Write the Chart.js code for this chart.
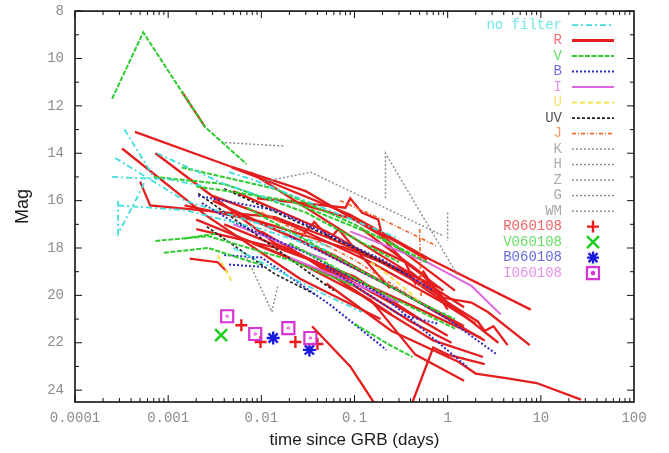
<!DOCTYPE html>
<html>
<head>
<meta charset="utf-8">
<script src="https://cdn.jsdelivr.net/npm/chart.js@4.4.1/dist/chart.umd.min.js"></script>
<style>
  html, body { margin: 0; padding: 0; background: #fff; }
  canvas { display: block; }
</style>
</head>
<body>
<canvas id="grbChart" width="669" height="453"></canvas>
<script>
// ticks
const xTicks = [1e-4, 1e-3, 1e-2, 0.1, 1, 10, 100];
const xTickLabels = ['0.0001', '0.001', '0.01', '0.1', '1', '10', '100'];
const yTicks = [8, 10, 12, 14, 16, 18, 20, 22, 24];

// light curves, [time (days), mag]
const noFilter = [
  [[3.4e-4, 13.0], [7e-4, 15.0]],
  [[2.5e-4, 15.0], [0.001, 15.1], [0.0025, 15.4]],
  [[2.7e-4, 14.2], [0.0015, 16.0], [0.01, 17.0], [0.06, 18.0]],
  [[2.9e-4, 16.0], [2.9e-4, 17.4], [4.6e-4, 15.9], [5.6e-4, 15.2]],
  [[2.9e-4, 16.2], [0.0015, 16.4], [0.01, 17.2], [0.05, 18.1]],
  [[7.6e-4, 14.0], [0.004, 15.3], [0.02, 16.2]],
  [[0.0045, 14.8], [0.008, 15.1], [0.3, 17.6]],
  [[0.005, 18.0], [0.05, 20.0], [0.12, 20.7]]
];
const vBand = [
  [[2.5e-4, 11.7], [5.4e-4, 8.9], [0.0014, 11.4], [0.0025, 12.9], [0.0069, 14.45]],
  [[0.0014, 14.6], [0.014, 15.5], [0.1, 17.0], [0.4, 18.3]],
  [[7e-4, 15.0], [0.004, 15.3], [0.03, 16.5], [0.3, 18.6]],
  [[7.3e-4, 17.7], [0.0027, 17.5], [0.02, 18.5], [0.1, 19.6]],
  [[9e-4, 18.2], [0.0027, 18.0], [0.0097, 18.7]],
  [[0.0015, 17.6], [0.0032, 17.4]],
  [[0.007, 16.3], [0.1, 18.8], [0.5, 20.3], [1.2, 21.0]],
  [[0.1, 21.2], [0.24, 22.1], [0.42, 22.6]],
  [[0.002, 15.4], [0.02, 16.0], [0.2, 17.6], [0.6, 18.6]],
  [[0.02, 17.8], [0.2, 19.9], [1.2, 21.4]]
];
const bBand = [
  [[0.0021, 15.8], [0.014, 16.4], [0.2, 18.5], [0.7, 19.8]],
  [[0.0023, 16.1], [0.005, 16.9], [0.03, 18.2], [0.2, 20.0], [1.6, 23.0]],
  [[0.004, 18.3], [0.01, 18.4], [0.055, 20.4], [0.22, 22.3]],
  [[0.0045, 18.7], [0.011, 18.8]],
  [[0.02, 17.5], [0.3, 19.8], [1.0, 21.0], [3.4, 22.5]],
  [[0.05, 18.8], [0.3, 20.8], [0.8, 21.2]]
];
const iBand = [
  [[0.09, 17.3], [0.6, 18.6], [1.8, 19.6], [3.7, 20.8]],
  [[0.02, 18.4], [0.1, 19.5], [0.3, 20.3]],
  [[0.005, 17.0], [0.05, 18.5]]
];
const uBand = [
  [[0.0034, 18.3], [0.0048, 19.4]],
  [[0.15, 18.6], [0.24, 19.2], [0.4, 19.9], [0.5, 20.3]]
];
const uvBand = [
  [[0.0021, 15.7], [0.014, 18.0], [0.06, 19.8]],
  [[0.0026, 17.1], [0.014, 19.1], [0.04, 20.0]],
  [[0.004, 15.5], [0.1, 18.0], [0.4, 19.2]]
];
const jBand = [
  [[0.07, 16.0], [0.2, 16.8], [0.75, 17.9]],
  [[0.5, 17.2], [0.52, 20.1]],
  [[0.01, 16.5], [0.1, 18.5], [0.6, 20.5]]
];
const grayBands = [
  [[0.0041, 13.55], [0.018, 13.7]],
  [[0.0105, 15.2], [0.034, 14.8], [0.91, 17.5]],
  [[0.215, 15.9], [0.215, 14.0], [1.3, 19.2]],
  [[1.0, 16.5], [1.0, 17.7]],
  [[0.007, 18.4], [0.013, 20.7], [0.015, 19.6]]
];
const rBand = [
  [[0.0014, 11.4], [0.0025, 12.9]],
  [[4.4e-4, 13.1], [0.005, 14.6], [0.03, 15.6], [0.2, 17.5], [1.2, 19.8]],
  [[3.2e-4, 13.8], [0.0025, 16.6], [0.026, 19.3], [0.19, 21.0]],
  [[7.3e-4, 14.0], [0.014, 17.8], [0.31, 20.2], [2.3, 21.8]],
  [[5e-4, 15.2], [6.4e-4, 16.2], [0.014, 16.7], [0.055, 17.6], [0.84, 19.7]],
  [[0.0017, 18.45], [0.0034, 18.6], [0.0043, 19.0]],
  [[0.0048, 14.6], [0.014, 15.3], [0.09, 16.6], [0.66, 18.5], [7.8, 20.6]],
  [[0.009, 15.9], [0.08, 16.3], [0.09, 15.9], [0.12, 16.5], [0.18, 16.8], [0.2, 17.6], [0.35, 18.6], [0.9, 19.8]],
  [[0.0076, 14.8], [0.19, 18.3], [0.6, 19.5], [1.5, 20.5]],
  [[0.026, 17.6], [0.037, 16.9], [0.055, 17.6], [0.067, 17.2], [0.09, 17.8], [0.24, 19.7]],
  [[0.12, 17.2], [0.5, 19.0], [0.9, 20.1], [1.8, 20.3], [2.7, 20.7], [7.6, 22.1]],
  [[0.4, 19.0], [1.0, 20.3], [2.1, 21.1], [2.5, 21.5], [3.1, 21.3], [4.4, 22.1]],
  [[0.05, 19.5], [0.25, 21.5], [1.3, 22.8], [2.0, 23.3], [4.4, 23.5], [9, 23.7], [27, 24.4]],
  [[0.035, 21.3], [0.09, 23.0], [0.16, 24.5]],
  [[0.42, 24.5], [0.7, 22.2], [1.0, 22.5], [2.5, 22.9]],
  [[0.003, 16.0], [0.03, 17.8], [0.3, 19.8], [1.5, 21.3]],
  [[0.002, 16.8], [0.02, 18.4], [0.15, 20.2], [0.45, 22.5], [1.5, 23.6]],
  [[0.004, 17.0], [0.04, 18.6], [0.3, 20.5], [1.0, 21.7]],
  [[0.003, 15.8], [0.02, 17.0], [0.15, 18.6], [0.8, 20.2], [2, 21.2]],
  [[0.006, 16.6], [0.06, 18.3], [0.5, 20.3], [2.5, 21.9]],
  [[0.002, 17.2], [0.015, 18.0], [0.1, 19.2], [0.5, 21.0]],
  [[0.01, 17.3], [0.1, 19.6], [0.4, 21.1], [1.1, 22.0]],
  [[0.0015, 16.2], [0.01, 16.9], [0.08, 18.0], [0.35, 19.0]],
  [[0.02, 16.0], [0.1, 16.8], [0.3, 17.8], [0.6, 18.5]],
  [[0.15, 17.9], [0.35, 18.6], [0.45, 19.5], [0.55, 19.0], [1.0, 20.6]],
  [[0.005, 15.6], [0.05, 17.3], [0.4, 19.3], [1.2, 20.6]],
  [[0.03, 18.4], [0.2, 20.6], [0.7, 21.9], [2.4, 22.6]],
  [[0.008, 17.8], [0.06, 19.2], [0.25, 20.8]],
  [[0.1, 18.0], [0.3, 18.9], [0.8, 20.0], [3.5, 22.0]]
];

// GRB 060108 points
const r060108 = [[0.0061, 21.26], [0.0098, 21.97], [0.0232, 21.97], [0.04, 22.05]];
const v060108 = [[0.0037, 21.68]];
const b060108 = [[0.0134, 21.8], [0.0328, 22.3]];
const i060108 = [[0.0043, 20.88], [0.0086, 21.63], [0.0195, 21.38], [0.0336, 21.8]];

const legendNames = ['no filter', 'R', 'V', 'B', 'I', 'U', 'UV', 'J', 'K', 'H', 'Z', 'G', 'WM',
  'R060108', 'V060108', 'B060108', 'I060108'];

const styles = {
  noFilter: { color: '#3fdede', dash: [6, 3, 2, 3], width: 1.8, text: '#70e6e6' },
  R: { color: '#e41e1e', dash: [], width: 2.3, text: '#f07070' },
  V: { color: '#2fcc2f', dash: [5, 1.5], width: 2, text: '#66dd66' },
  B: { color: '#2a2acc', dash: [2, 2], width: 2, text: '#7070e0' },
  I: { color: '#dd66dd', dash: [], width: 2, text: '#e890e8' },
  U: { color: '#f2e040', dash: [5, 3], width: 1.8, text: '#f0e070' },
  UV: { color: '#222222', dash: [3, 2], width: 1.7, text: '#555555' },
  J: { color: '#f26a30', dash: [4, 2, 1, 2], width: 1.7, text: '#f59a6a' },
  gray: { color: '#8a8a8a', dash: [2, 2], width: 1.4, text: '#aaaaaa' }
};

const toXY = arr => arr.map(([x, y]) => ({ x, y }));

function lineSets(group, st) {
  return group.map(s => ({
    data: toXY(s),
    showLine: true,
    borderColor: st.color,
    borderWidth: st.width,
    borderDash: st.dash,
    pointRadius: 0,
    tension: 0
  }));
}

function pointSet(arr, color, style, radius, width) {
  return {
    data: toXY(arr),
    showLine: false,
    pointStyle: style,
    pointRadius: radius,
    pointBorderColor: color,
    pointBackgroundColor: 'rgba(0,0,0,0)',
    pointBorderWidth: width
  };
}

const datasets = [].concat(
  lineSets(grayBands, styles.gray),
  lineSets(noFilter, styles.noFilter),
  lineSets(vBand, styles.V),
  lineSets(bBand, styles.B),
  lineSets(uvBand, styles.UV),
  lineSets(uBand, styles.U),
  lineSets(jBand, styles.J),
  lineSets(iBand, styles.I),
  lineSets(rBand, styles.R),
  [
    pointSet(i060108, '#d633d6', 'rect', 8.5, 2.2),
    pointSet(i060108, '#d633d6', 'circle', 1.2, 1),
    pointSet(r060108, '#ee1c1c', 'cross', 6, 2.4),
    pointSet(v060108, '#22cc22', 'crossRot', 8.5, 2.6),
    pointSet(b060108, '#1a1ae0', 'star', 6.5, 2.4)
  ]
);

// frame with inward ticks on all four sides
const framePlugin = {
  id: 'frame',
  afterDraw(chart) {
    const { ctx, chartArea: a, scales: { x, y } } = chart;
    ctx.save();
    ctx.strokeStyle = '#111';
    ctx.lineWidth = 1;
    ctx.setLineDash([]);
    ctx.beginPath();
    for (let d = -4; d < 2; d++) {
      for (let k = 1; k <= 9; k++) {
        const px = x.getPixelForValue(k * Math.pow(10, d));
        const len = k === 1 ? 7 : 4;
        ctx.moveTo(px, a.bottom); ctx.lineTo(px, a.bottom - len);
        ctx.moveTo(px, a.top); ctx.lineTo(px, a.top + len);
      }
    }
    for (let m = 8; m <= 24; m++) {
      const py = y.getPixelForValue(m);
      const len = m % 2 === 0 ? 7 : 4;
      ctx.moveTo(a.left, py); ctx.lineTo(a.left + len, py);
      ctx.moveTo(a.right, py); ctx.lineTo(a.right - len, py);
    }
    ctx.stroke();
    ctx.lineWidth = 1.6;
    ctx.strokeRect(a.left, a.top, a.right - a.left, a.bottom - a.top);
    ctx.restore();
  }
};

function drawMarker(ctx, kind, cx, cy, color) {
  ctx.save();
  ctx.strokeStyle = color;
  ctx.setLineDash([]);
  ctx.beginPath();
  if (kind === 'cross') {
    ctx.lineWidth = 2.4;
    ctx.moveTo(cx - 6, cy); ctx.lineTo(cx + 6, cy);
    ctx.moveTo(cx, cy - 6); ctx.lineTo(cx, cy + 6);
  } else if (kind === 'crossRot') {
    ctx.lineWidth = 2.6;
    ctx.moveTo(cx - 6, cy - 6); ctx.lineTo(cx + 6, cy + 6);
    ctx.moveTo(cx + 6, cy - 6); ctx.lineTo(cx - 6, cy + 6);
  } else if (kind === 'star') {
    ctx.lineWidth = 2.4;
    ctx.moveTo(cx - 6, cy); ctx.lineTo(cx + 6, cy);
    ctx.moveTo(cx, cy - 6); ctx.lineTo(cx, cy + 6);
    ctx.moveTo(cx - 4.5, cy - 4.5); ctx.lineTo(cx + 4.5, cy + 4.5);
    ctx.moveTo(cx + 4.5, cy - 4.5); ctx.lineTo(cx - 4.5, cy + 4.5);
  } else {
    ctx.lineWidth = 2.2;
    ctx.rect(cx - 6, cy - 6, 12, 12);
    ctx.stroke();
    ctx.beginPath();
    ctx.fillStyle = color;
    ctx.arc(cx, cy, 1.2, 0, Math.PI * 2);
    ctx.fill();
  }
  ctx.stroke();
  ctx.restore();
}

// gnuplot-like key inside the top right corner
const keyPlugin = {
  id: 'key',
  afterDraw(chart) {
    const { ctx, chartArea: a } = chart;
    const lineStyles = [styles.noFilter, styles.R, styles.V, styles.B, styles.I, styles.U,
      styles.UV, styles.J, styles.gray, styles.gray, styles.gray, styles.gray, styles.gray];
    const markers = [
      { kind: 'cross', color: '#ee1c1c', text: '#ee6666' },
      { kind: 'crossRot', color: '#22cc22', text: '#66dd66' },
      { kind: 'star', color: '#1a1ae0', text: '#6a6ae0' },
      { kind: 'rect', color: '#d633d6', text: '#e890e8' }
    ];
    ctx.save();
    ctx.font = '14px "Liberation Mono", "DejaVu Sans Mono", monospace';
    ctx.textAlign = 'right';
    ctx.textBaseline = 'middle';
    legendNames.forEach((name, i) => {
      const yy = a.top + 14 + i * 15.5;
      const textX = a.right - 72;
      if (i < lineStyles.length) {
        const st = lineStyles[i];
        ctx.fillStyle = st.text;
        ctx.fillText(name, textX, yy);
        ctx.strokeStyle = st.color;
        ctx.lineWidth = st === styles.R ? 3 : st.width;
        ctx.setLineDash(st.dash);
        ctx.beginPath();
        ctx.moveTo(a.right - 62, yy);
        ctx.lineTo(a.right - 20, yy);
        ctx.stroke();
      } else {
        const mk = markers[i - lineStyles.length];
        ctx.fillStyle = mk.text;
        ctx.fillText(name, textX, yy);
        drawMarker(ctx, mk.kind, a.right - 41, yy, mk.color);
      }
    });
    ctx.restore();
  }
};

new Chart(document.getElementById('grbChart').getContext('2d'), {
  type: 'scatter',
  data: { datasets },
  options: {
    responsive: false,
    animation: false,
    layout: { padding: { top: 10, right: 35, left: 0, bottom: 0 } },
    plugins: {
      legend: { display: false },
      tooltip: { enabled: false }
    },
    scales: {
      x: {
        type: 'logarithmic',
        min: 1e-4,
        max: 100,
        grid: { display: false, drawTicks: false },
        border: { display: false },
        afterBuildTicks: s => { s.ticks = xTicks.map(v => ({ value: v })); },
        afterFit: s => { s.height = 51; s.paddingLeft = 0; s.paddingRight = 0; },
        ticks: {
          padding: 8,
          color: '#8c8c8c',
          font: { family: '"Liberation Mono", monospace', size: 14 },
          maxRotation: 0,
          autoSkip: false,
          callback: v => xTickLabels[xTicks.findIndex(t => Math.abs(Math.log10(t) - Math.log10(v)) < 1e-6)]
        },
        title: {
          display: true,
          text: 'time since GRB (days)',
          color: '#1a1a1a',
          font: { family: '"Liberation Sans", Arial, sans-serif', size: 17 },
          padding: { top: 0, bottom: 2 }
        }
      },
      y: {
        reverse: true,
        min: 8,
        max: 24.5,
        grid: { display: false, drawTicks: false },
        border: { display: false },
        afterBuildTicks: s => { s.ticks = yTicks.map(v => ({ value: v })); },
        afterFit: s => { s.width = 75; s.paddingTop = 0; s.paddingBottom = 0; },
        ticks: {
          padding: 11,
          color: '#8c8c8c',
          font: { family: '"Liberation Mono", monospace', size: 14 }
        },
        title: {
          display: true,
          text: 'Mag',
          color: '#1a1a1a',
          font: { family: '"Liberation Sans", Arial, sans-serif', size: 18 },
          padding: { top: 12, bottom: 0 }
        }
      }
    }
  },
  plugins: [framePlugin, keyPlugin]
});
</script>
</body>
</html>
